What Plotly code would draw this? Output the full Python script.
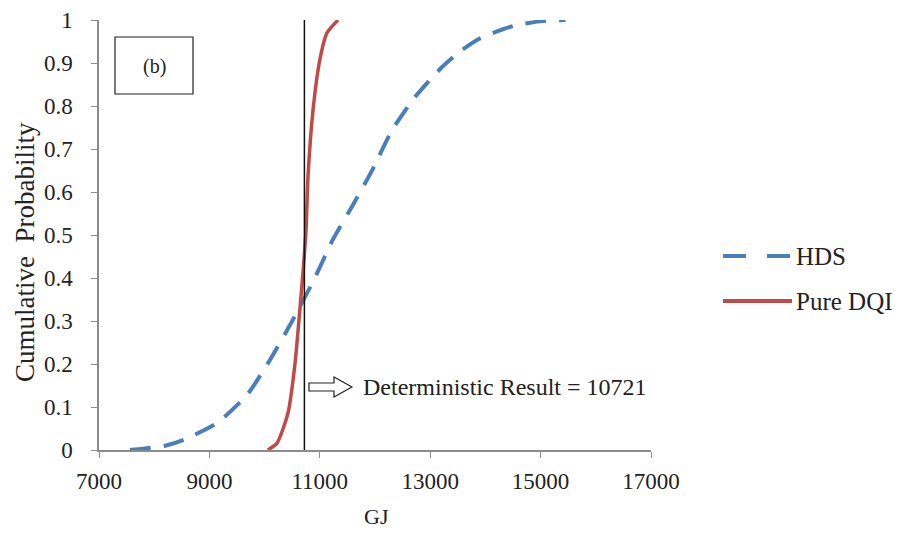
import plotly.graph_objects as go

# ---- data ----
hds_x = [7560, 7800, 8200, 8520, 9140, 9680, 10100, 10500, 10910, 11240, 11600,
         11950, 12310, 12720, 13210, 13550, 13900, 14500, 15000, 15450]
hds_y = [0.0, 0.003, 0.01, 0.023, 0.063, 0.128, 0.21, 0.30, 0.40, 0.49, 0.57,
         0.651, 0.744, 0.82, 0.89, 0.928, 0.957, 0.986, 0.997, 1.0]

dqi_x = [10060, 10225, 10424, 10550, 10641, 10700, 10750, 10786, 10877, 11000, 11130, 11330]
dqi_y = [0.0, 0.016, 0.086, 0.20, 0.33, 0.42, 0.51, 0.635, 0.79, 0.907, 0.97, 1.0]

deterministic = 10721
x_ticks = [7000, 9000, 11000, 13000, 15000, 17000]
x_tick_labels = ["7000", "9000", "11000", "13000", "15000", "17000"]
y_ticks = [0, 0.1, 0.2, 0.3, 0.4, 0.5, 0.6, 0.7, 0.8, 0.9, 1]
y_tick_labels = ["0", "0.1", "0.2", "0.3", "0.4", "0.5", "0.6", "0.7", "0.8", "0.9", "1"]
series_names = ["HDS", "Pure DQI"]

FONT = "Liberation Serif"
TXT = "#222222"
BLUE = "#4A7EBB"
RED = "#BE4B48"
AXIS = "#8C8C8C"

# page geometry: the page body has an 8px margin, so the figure is shrunk to fit
OFF = 8
W, H = 912 - OFF, 533 - OFF
# target plot area in page pixels: x 99..651, y 20..450
PL, PR, PT, PB = 99, 651, 20, 450
L, T = PL - OFF, PT - OFF
R, B = W - (PR - OFF), H - (PB - OFF)
PW, PH = PR - PL, PB - PT


def px(xp):  # page pixel -> paper x
    return (xp - PL) / PW


def py(yp):  # page pixel -> paper y
    return (PB - yp) / PH


fig = go.Figure()
fig.add_trace(go.Scatter(
    x=hds_x, y=hds_y, mode="lines", name=series_names[0],
    line=dict(color=BLUE, width=4, dash="21px,13px", shape="spline", smoothing=0.6),
))
fig.add_trace(go.Scatter(
    x=dqi_x, y=dqi_y, mode="lines", name=series_names[1],
    line=dict(color=RED, width=3.5, shape="spline", smoothing=0.6),
))
fig.add_trace(go.Scatter(
    x=[deterministic, deterministic], y=[0, 1], mode="lines", showlegend=False,
    line=dict(color="#111111", width=1.5), hoverinfo="skip",
))

# hollow arrow pointing right
ay = 387
pts = [(309, ay - 4), (334, ay - 4), (334, ay - 10), (352, ay), (334, ay + 10),
       (334, ay + 4), (309, ay + 4)]
path = "M " + " L ".join(f"{px(a):.4f},{py(b):.4f}" for a, b in pts) + " Z"

shapes = [
    dict(type="rect", xref="paper", yref="paper",
         x0=px(115), x1=px(193), y0=py(94), y1=py(37),
         line=dict(color=TXT, width=1.2), fillcolor="white"),
    dict(type="path", xref="paper", yref="paper", path=path,
         line=dict(color=TXT, width=1.2), fillcolor="white"),
    # manual legend symbols
    dict(type="line", xref="paper", yref="paper", x0=px(723), x1=px(792),
         y0=py(256), y1=py(256), line=dict(color=BLUE, width=4, dash="23px,21px")),
    dict(type="line", xref="paper", yref="paper", x0=px(723), x1=px(792),
         y0=py(301), y1=py(301), line=dict(color=RED, width=4)),
]


def note(text, x, y, size, xanchor="center", angle=0):
    return dict(text=text, xref="paper", yref="paper", x=px(x), y=py(y),
                xanchor=xanchor, yanchor="middle", textangle=angle, showarrow=False,
                font=dict(family=FONT, size=size, color=TXT))


annotations = [
    note("(b)", 154, 67, 20),
    note(f"Deterministic Result = {deterministic}", 361, ay, 24, "left"),
    note(series_names[0], 794, 256, 25, "left"),
    note(series_names[1], 794, 301, 25, "left"),
    note("Cumulative  Probability", 25, 252, 27, angle=-90),
    note("GJ", 376, 516, 22),
]

fig.update_layout(
    width=W, height=H,
    margin=dict(l=L, r=R, t=T, b=B, pad=0, autoexpand=False),
    paper_bgcolor="white", plot_bgcolor="white",
    font=dict(family=FONT, size=22, color=TXT),
    shapes=shapes, annotations=annotations,
    showlegend=False,
    xaxis=dict(range=[7000, 17000], tickvals=x_ticks, ticktext=x_tick_labels,
               showgrid=False, zeroline=False, automargin=False,
               showline=True, linecolor=AXIS, linewidth=1.5,
               ticks="outside", ticklen=6, tickcolor=AXIS, ticklabelstandoff=4,
               tickfont=dict(family=FONT, size=23, color=TXT)),
    yaxis=dict(range=[0, 1], tickvals=y_ticks, ticktext=y_tick_labels, showgrid=False,
               zeroline=False, automargin=False, showline=True, linecolor=AXIS,
               linewidth=1.5, ticks="outside", ticklen=6, tickcolor=AXIS,
               ticklabelstandoff=14,
               tickfont=dict(family=FONT, size=23, color=TXT)),
)

fig.write_html("out.html")
